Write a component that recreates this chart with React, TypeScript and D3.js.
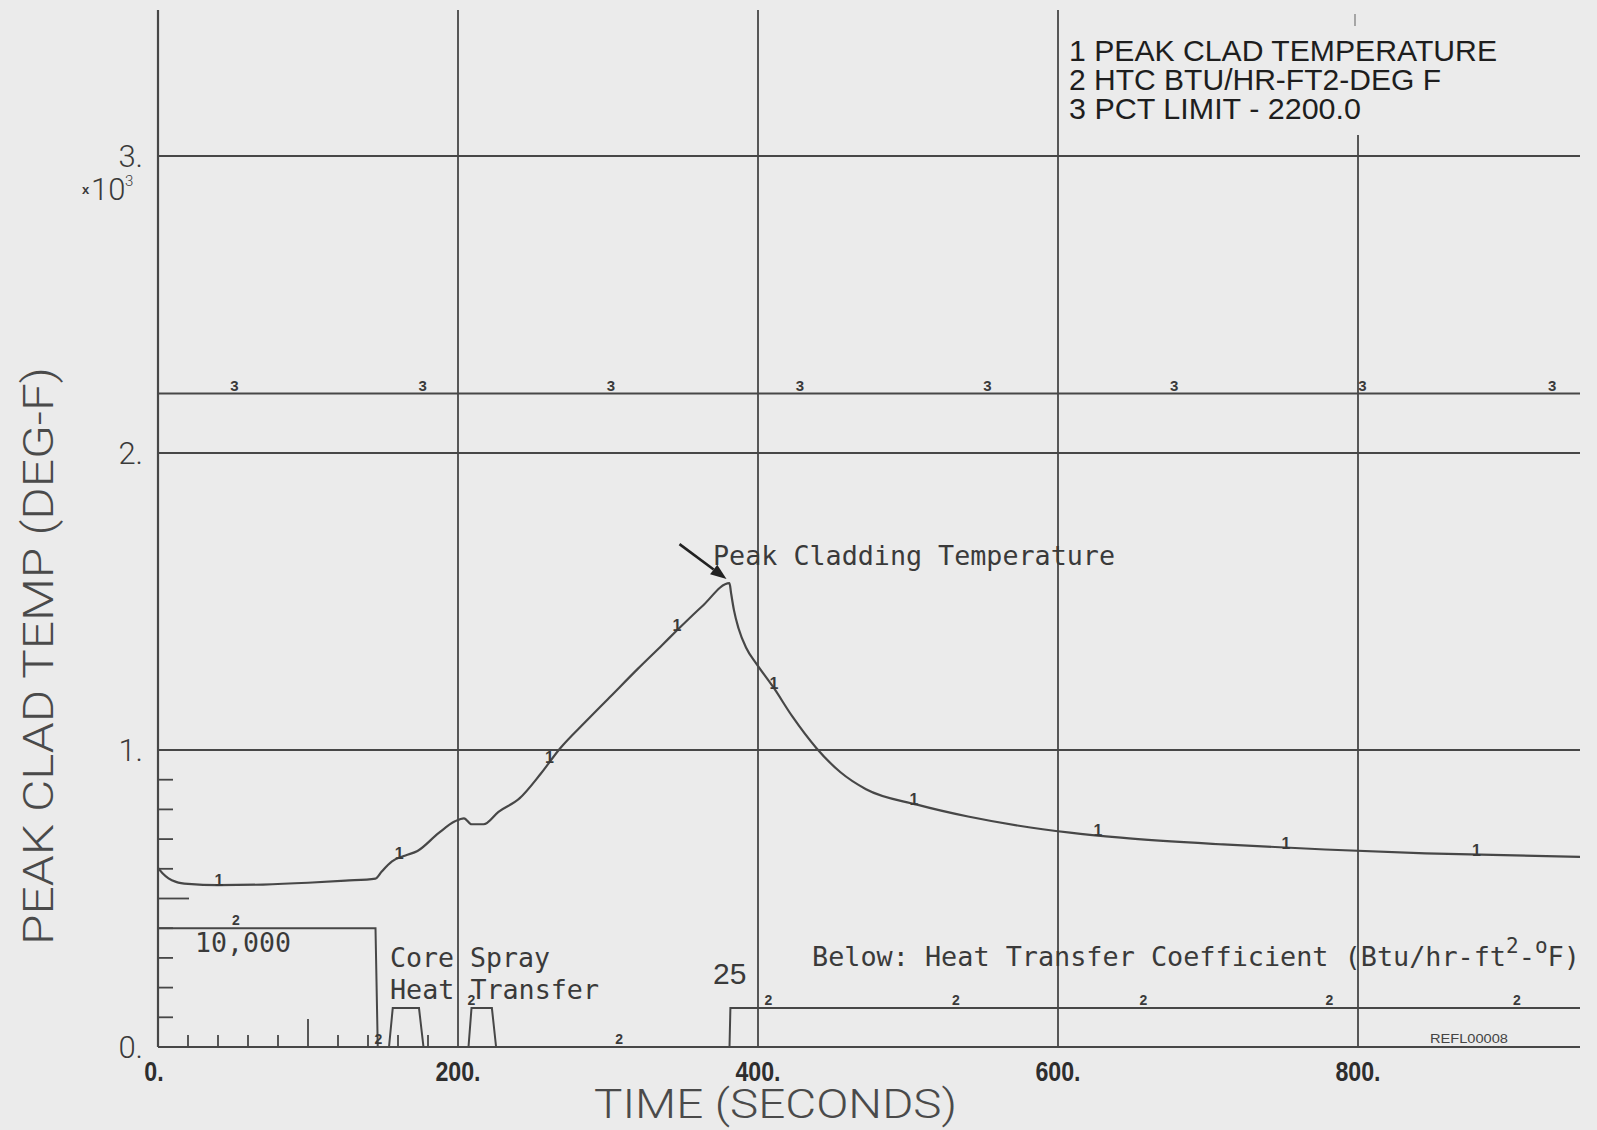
import React from 'react';
import * as d3 from 'd3';

const W = 1597;
const H = 1130;

// ---- data ----
const timeTicks = [0, 200, 400, 600, 800];
const timeTickLabels = ['0.', '200.', '400.', '600.', '800.'];
const tempTicks = [0, 1000, 2000, 3000];
const tempTickLabels = ['0.', '1.', '2.', '3.'];
const minorTempTicks = [100, 200, 300, 400, 500, 600, 700, 800, 900];
const minorTimeTicks = [20, 40, 60, 80, 100, 120, 140, 160, 180];
const pctLimit = 2200;

const cladTime = [0, 3, 7, 12, 20, 40, 70, 100, 125, 145, 149, 156, 165, 173, 187, 198, 204, 209, 217, 227, 241, 255, 268, 285, 302, 320, 336, 346, 363, 381, 382, 384, 387, 392, 399, 410, 423, 439, 455, 472, 506, 540, 574, 608, 642, 710, 778, 845, 948];
const cladTemp = [603, 585, 568, 556, 549, 545, 547, 553, 560, 567, 590, 625, 645, 660, 720, 760, 770, 750, 750, 792, 837, 919, 1005, 1095, 1182, 1274, 1353, 1403, 1485, 1562, 1530, 1470, 1410, 1345, 1290, 1213, 1112, 1006, 925, 868, 816, 776, 745, 722, 705, 682, 665, 652, 640];

const htcTime = [0, 145, 146.5, 154, 156.5, 174, 177, 207, 209, 222.6, 225.4, 381, 381.6, 948];
const htcValue = [10000, 10000, 0, 0, 25, 25, 0, 0, 25, 25, 0, 0, 25, 25];

const cladMarkerTimes = [40.7, 160.8, 261, 346, 410.7, 504, 626.6, 752, 879];
const htcMarkerTimes = [52, 147, 209, 307.5, 407, 532, 657, 781, 906];
const pctMarkerTimes = [50.9, 176.5, 302, 428, 553, 677.5, 803, 929.5];

const legendLines = ['1 PEAK CLAD TEMPERATURE', '2 HTC BTU/HR-FT2-DEG F', '3 PCT LIMIT - 2200.0'];
const legendWidths = [428, 372, 292];

// ---- scales ----
const x = d3.scaleLinear().domain([0, 948]).range([158, 1580]);
const y = d3.scaleLinear().domain([0, 3000]).range([1047, 156]);
// HTC drawn on a compressed (log-like) scale in the temperature frame
const yHtc = d3.scaleLinear().domain([0, 25, 10000]).range([y(0), y(131), y(400)]);

function interp(ts: number[], vs: number[], t: number) {
  const i = Math.min(Math.max(d3.bisectRight(ts, t), 1), ts.length - 1);
  const t0 = ts[i - 1], t1 = ts[i];
  const f = t1 === t0 ? 0 : (t - t0) / (t1 - t0);
  return vs[i - 1] + (vs[i] - vs[i - 1]) * f;
}

const LINE = '#474747';
const TXT = '#3a3a3a';
const MONO = "'DejaVu Sans Mono', 'Liberation Mono', monospace";
const SANS = "'Liberation Sans', Arial, sans-serif";
const THIN = "Roboto, 'DejaVu Sans', sans-serif";

export default function App() {
  const cladLine = d3.line<number>()
    .x((_, i) => x(cladTime[i]))
    .y((d) => y(d))
    .curve(d3.curveMonotoneX);
  const htcLine = d3.line<number>()
    .x((_, i) => x(htcTime[i]))
    .y((d) => yHtc(d));

  const peakIdx = cladTemp.indexOf(d3.max(cladTemp) as number);
  const tipX = x(cladTime[peakIdx]) - 3;
  const tipY = y(cladTemp[peakIdx]) - 4;
  const tailX = tipX - 47;
  const tailY = tipY - 35;
  const ang = Math.atan2(tipY - tailY, tipX - tailX);
  const ah = 16, aw = 6;
  const bx = tipX - ah * Math.cos(ang), by = tipY - ah * Math.sin(ang);
  const head = `M${tipX},${tipY} L${bx + aw * Math.sin(ang)},${by - aw * Math.cos(ang)} L${bx - aw * Math.sin(ang)},${by + aw * Math.cos(ang)} Z`;

  const x0 = x(0);
  const xEnd = x(948);

  return (
    <svg width={W} height={H} style={{ position: 'absolute', left: 0, top: 0, display: 'block' }}>
      <rect x={0} y={0} width={W} height={H} fill="#ebebeb" />

      {/* vertical gridlines */}
      {timeTicks.map((t) => (
        <line key={'vg' + t} x1={x(t)} x2={x(t)} y1={t === 800 ? 135 : 10} y2={y(0)} stroke={LINE} strokeWidth={t === 0 ? 2.2 : 1.8} />
      ))}
      <line x1={x(800) - 3} x2={x(800) - 3} y1={14} y2={26} stroke="#777" strokeWidth={1.2} />

      {/* horizontal gridlines */}
      {tempTicks.map((v) => (
        <line key={'hg' + v} x1={x0} x2={xEnd} y1={y(v)} y2={y(v)} stroke={LINE} strokeWidth={2} />
      ))}
      {/* PCT limit line (series 3) */}
      <line x1={x0} x2={xEnd} y1={y(pctLimit)} y2={y(pctLimit)} stroke={LINE} strokeWidth={2} />
      {pctMarkerTimes.map((t, i) => (
        <text key={'p' + i} x={x(t)} y={y(pctLimit) - 3} fontFamily={SANS} fontWeight="bold" fontSize={15} fill={TXT} textAnchor="middle">3</text>
      ))}

      {/* minor ticks */}
      {minorTempTicks.map((v) => (
        <line key={'mt' + v} x1={x0} x2={x0 + (v === 500 ? 31 : 15)} y1={y(v)} y2={y(v)} stroke={LINE} strokeWidth={1.8} />
      ))}
      {minorTimeTicks.map((t) => (
        <line key={'mx' + t} x1={x(t)} x2={x(t)} y1={y(0)} y2={y(0) - (t === 100 ? 28 : 12)} stroke={LINE} strokeWidth={1.8} />
      ))}

      {/* HTC (series 2) */}
      <path d={htcLine(htcValue) as string} fill="none" stroke={LINE} strokeWidth={2} />
      {htcMarkerTimes.map((t, i) => (
        <text key={'h' + i} x={x(t)} y={yHtc(interp(htcTime, htcValue, t)) - 3} fontFamily={SANS} fontWeight="bold" fontSize={14} fill={TXT} textAnchor="middle">2</text>
      ))}

      {/* clad temperature (series 1) */}
      <path d={cladLine(cladTemp) as string} fill="none" stroke={LINE} strokeWidth={2.2} />
      {cladMarkerTimes.map((t, i) => (
        <text key={'c' + i} x={x(t)} y={y(interp(cladTime, cladTemp, t)) + 1} fontFamily={SANS} fontWeight="bold" fontSize={16} fill={TXT} textAnchor="middle">1</text>
      ))}

      {/* y tick labels */}
      {tempTicks.map((v, i) => (
        <text key={'yl' + v} x={143} y={y(v) + 11} fontFamily={THIN} fontWeight={300} fontSize={31} fill={TXT} textAnchor="end">{tempTickLabels[i]}</text>
      ))}
      <text x={82} y={194} fontFamily={SANS} fontWeight="bold" fontSize={13} fill={TXT}>x</text>
      <text x={91} y={200} fontFamily={THIN} fontWeight={300} fontSize={31} fill={TXT}>10</text>
      <text x={125} y={186} fontFamily={THIN} fontWeight={300} fontSize={15} fill={TXT}>3</text>

      {/* x tick labels */}
      {timeTicks.map((t, i) => (
        <text key={'xl' + t} x={x(t) - (t === 0 ? 4 : 0)} y={1081} fontFamily={SANS} fontWeight="bold" fontSize={28} fill="#2e2e2e" textAnchor="middle"
          textLength={(timeTickLabels[i].length - 1) * 0.556 * 29 * 0.8 + 0.278 * 29 * 0.8} lengthAdjust="spacingAndGlyphs">{timeTickLabels[i]}</text>
      ))}

      {/* axis titles */}
      <text x={594} y={1118} fontFamily={THIN} fontWeight={300} fontSize={40} fill="#4a4a4a" textLength={363} lengthAdjust="spacingAndGlyphs">TIME (SECONDS)</text>
      <text transform={`translate(53,${656}) rotate(-90)`} fontFamily={THIN} fontWeight={300} fontSize={42} fill="#4a4a4a" textAnchor="middle" textLength={578} lengthAdjust="spacingAndGlyphs">PEAK CLAD TEMP (DEG-F)</text>

      {/* legend */}
      {legendLines.map((s, i) => (
        <text key={'lg' + i} x={1069} y={61 + i * 29} fontFamily={SANS} fontSize={29} fill="#1e1e1e" textLength={legendWidths[i]} lengthAdjust="spacingAndGlyphs">{s}</text>
      ))}

      {/* annotations */}
      <line x1={tailX} y1={tailY} x2={bx} y2={by} stroke="#222" strokeWidth={2.6} />
      <path d={head} fill="#222" />
      <text x={713} y={565} fontFamily={MONO} fontSize={27} fill={TXT} textLength={402} lengthAdjust="spacingAndGlyphs">Peak Cladding Temperature</text>
      <text x={195} y={952} fontFamily={MONO} fontSize={27} fill={TXT} textLength={96} lengthAdjust="spacingAndGlyphs">10,000</text>
      <text x={390} y={967} fontFamily={MONO} fontSize={27} fill={TXT} textLength={160} lengthAdjust="spacingAndGlyphs">Core Spray</text>
      <text x={390} y={999} fontFamily={MONO} fontSize={27} fill={TXT} textLength={209} lengthAdjust="spacingAndGlyphs">Heat Transfer</text>
      <text x={713} y={984} fontFamily={SANS} fontSize={30} fill={TXT}>25</text>
      <text x={812} y={966} fontFamily={MONO} fontSize={27} fill={TXT}>
        <tspan textLength={694} lengthAdjust="spacingAndGlyphs">Below: Heat Transfer Coefficient (Btu/hr-ft</tspan>
        <tspan fontSize={21} dy={-13}>2</tspan>
        <tspan dy={13}>-</tspan>
        <tspan fontSize={21} dy={-13}>o</tspan>
        <tspan dy={13}>F)</tspan>
      </text>
      <text x={1430} y={1043} fontFamily={SANS} fontSize={13} fill="#444" textLength={78} lengthAdjust="spacingAndGlyphs">REFL00008</text>
    </svg>
  );
}
